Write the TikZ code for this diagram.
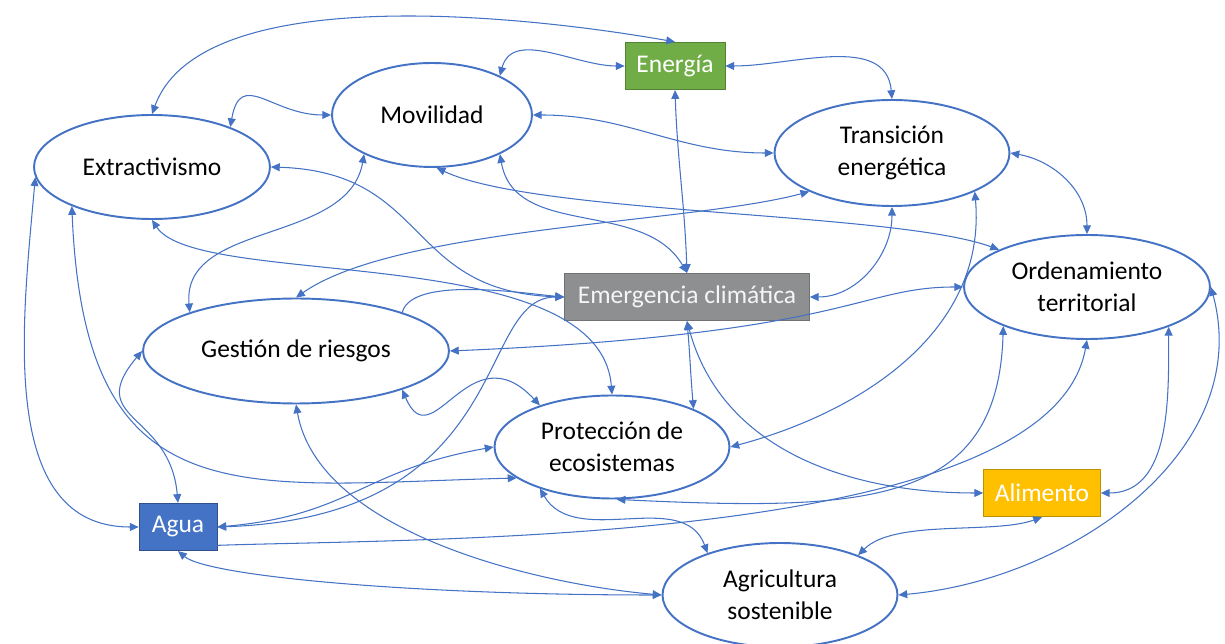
\documentclass[tikz,border=0pt]{standalone}
\usepackage{fontspec}
\setmainfont{Carlito}
\usetikzlibrary{positioning}
\usetikzlibrary{shapes.geometric}
\usetikzlibrary{arrows.meta}

\definecolor{azul}{RGB}{68,114,196}
\definecolor{verde}{RGB}{112,173,71}
\definecolor{gris}{RGB}{142,143,144}
\definecolor{ambar}{RGB}{255,192,0}

\tikzset{
 tema/.style={ellipse, draw=azul, line width=1.1pt, fill=white, inner sep=0pt, align=center},
 recurso/.style={rectangle, inner sep=0pt, minimum height=0.95cm, text=white},
 enlace/.style={draw=azul, line width=0.6pt, {Triangle[length=5pt,width=4.5pt]}-{Triangle[length=5pt,width=4.5pt]}},
 unico/.style={draw=azul, line width=0.6pt, -{Triangle[length=5pt,width=4.5pt]}}
}

\begin{document}
\begin{tikzpicture}[x=0.02cm, y=-0.02cm, font=\fontsize{14.5}{18}\selectfont]
 	 \useasboundingbox (0,0) rectangle (1225,644);

 	 % Temas (ellipses)
 	 \node[tema, minimum width=4cm, minimum height=2.08cm] (movil) at (432,115) {Movilidad};
 	 \node[tema, minimum width=4.72cm, minimum height=2.08cm] (extr) at (152,167) {Extractivismo};
 	 \node[tema, minimum width=4.7cm, minimum height=2.12cm] (trans) at (892,153) {Transición\\energética};
 	 \node[tema, minimum width=4.92cm, minimum height=2.08cm] (orden) at (1087,287) {Ordenamiento\\territorial};
 	 \node[tema, minimum width=6.12cm, minimum height=2.1cm] (gestion) at (296,351) {Gestión de riesgos};
 	 \node[tema, minimum width=4.7cm, minimum height=2.06cm] (prot) at (612,447) {Protección de\\ecosistemas};
 	 \node[tema, minimum width=4.7cm, minimum height=2.08cm] (agric) at (780,595) {Agricultura\\sostenible};

 	 % Recursos (cajas)
 	 \node[recurso, fill=verde, draw=verde!75!black, minimum width=2cm] (energia) at (675,66) {Energía};
 	 \node[recurso, fill=gris, draw=gris!80!black, minimum width=4.9cm, text=white!92!gray] (emerg) at (687,297) {Emergencia climática};
 	 \node[recurso, fill=azul, draw=azul!70!black, minimum width=1.56cm] (agua) at (178,527) {Agua};
 	 \node[recurso, fill=ambar, draw=ambar!75!black, minimum width=2.34cm] (alim) at (1042,493) {Alimento};

 	 % Conexiones
 	 \draw[enlace] (extr.north) to[out=70,in=170,looseness=0.7] (energia.north);
 	 \draw[enlace] (movil.30) to[out=75,in=180] (energia.west);
 	 \draw[enlace] (extr.27) to[out=80,in=180,looseness=1.5] (movil.west);
 	 \draw[enlace] (movil.east) to[out=0,in=180] (trans.west);
 	 \draw[enlace] (energia.east) to[out=0,in=95] (trans.north);
 	 \draw[enlace] (energia.south) to[out=-88,in=92] (emerg.north);
 	 \draw[enlace] (trans.east) to[out=-10,in=90] (orden.north);
 	 \draw[enlace] (trans.south) to[out=-90,in=0] (emerg.east);
 	 \draw[enlace] (trans.205) to[out=195,in=35,looseness=0.6] (gestion.north);
 	 \draw[enlace] (extr.east) .. controls +(160,5) and +(-160,-5) .. (emerg.west);
 	 \draw[enlace] (movil.210) to[out=-100,in=95] (gestion.160);
 	 \draw[enlace] (movil.-85) to[out=-25,in=160,looseness=0.5] (orden.157);
 	 \draw[enlace] (movil.-30) to[out=-80,in=120] (emerg.north);
 	 \draw[enlace] (extr.south) .. controls +(46,70) and +(-12,-155) .. (prot.north);
 	 \draw[unico] (gestion.20) to[out=75,in=175,looseness=0.6] (emerg.west);
 	 \draw[enlace] (agua.east) .. controls +(300,-10) and +(-90,0) .. (emerg.west);
 	 \draw[enlace] (gestion.east) .. controls +(400,-17) and +(-105,0) .. (orden.west);
 	 \draw[enlace] (gestion.-20) .. controls +(30,71) and +(-71,-76) .. (prot.150);
 	 \draw[enlace] (gestion.south) to[out=-80,in=175,looseness=0.8] (agric.west);
 	 \draw[enlace] (extr.185) to[out=-95,in=180] (agua.west);
 	 \draw[enlace] (agua.north) to[out=95,in=230,looseness=1.5] (gestion.west);
 	 \draw[enlace] (agua.east) to[out=5,in=190,looseness=1.2] (prot.west);
 	 \draw[unico] (agua.-25) to[out=2,in=-100,looseness=0.6] (orden.south);
 	 \draw[enlace] (agua.south) .. controls +(30,25) and +(-250,0) .. (agric.west);
 	 \draw[enlace] (extr.206) .. controls +(13,315) and +(-277,7) .. (prot.198);
 	 \draw[enlace] (prot.210) to[out=-60,in=110] (agric.150);
 	 \draw[enlace] (prot.-85) .. controls +(250,12) and +(-5,180) .. (orden.205);
 	 \draw[enlace] (prot.east) to[out=15,in=-85] (trans.-25);
 	 \draw[enlace] (emerg.south) to[out=-85,in=95] (prot.25);
 	 \draw[enlace] (emerg.south) to[out=-75,in=180] (alim.west);
 	 \draw[enlace] (alim.east) to[out=0,in=-90] (orden.-26);
 	 \draw[enlace] (alim.south) to[out=-160,in=45,looseness=0.7] (agric.27);
 	 \draw[enlace] (agric.east) to[out=5,in=-75] (orden.east);

\end{tikzpicture}
\end{document}
